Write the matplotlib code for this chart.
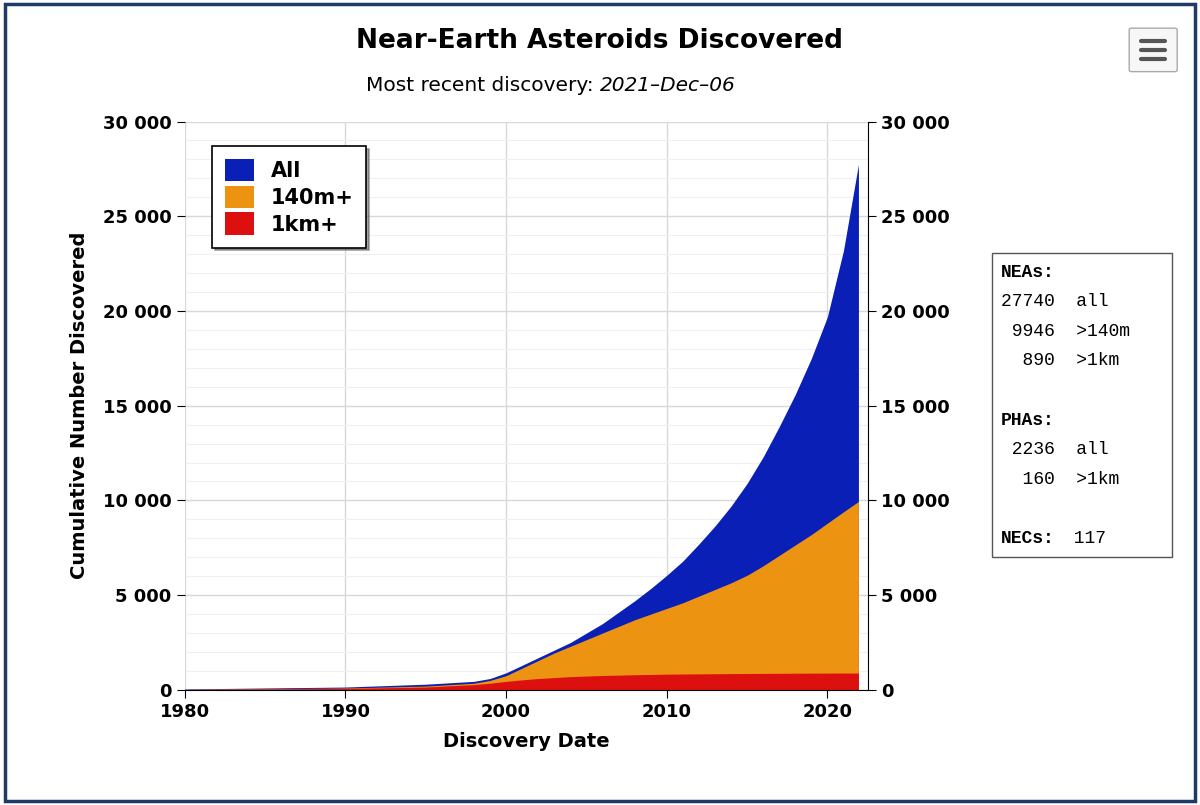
import matplotlib.pyplot as plt
from matplotlib.patches import FancyBboxPatch, Rectangle

# cumulative discoveries
years = [1980, 1985, 1990, 1995, 1998, 1999, 2000, 2001, 2002, 2003, 2004, 2005,
         2006, 2007, 2008, 2009, 2010, 2011, 2012, 2013, 2014, 2015, 2016,
         2017, 2018, 2019, 2020, 2021, 2021.93]
all_neas = [50, 100, 150, 300, 450, 600, 900, 1300, 1700, 2100, 2500, 3000,
            3500, 4100, 4700, 5350, 6050, 6800, 7700, 8650, 9700, 10900, 12300,
            13900, 15600, 17500, 19700, 23200, 27740]
m140 = [30, 60, 100, 200, 350, 500, 750, 1150, 1550, 1950, 2300, 2650,
        3000, 3350, 3700, 4000, 4300, 4600, 4950, 5300, 5650, 6050, 6550,
        7100, 7650, 8200, 8800, 9400, 9946]
km1 = [20, 50, 80, 150, 280, 350, 450, 530, 600, 650, 700, 730,
       760, 780, 800, 815, 830, 840, 845, 852, 860, 865, 870,
       875, 880, 883, 886, 888, 890]

xticks = [1980, 1990, 2000, 2010, 2020]
yticks = [0, 5000, 10000, 15000, 20000, 25000, 30000]
ylabels = ['0', '5 000', '10 000', '15 000', '20 000', '25 000', '30 000']

fig = plt.figure(figsize=(12, 8.05), dpi=100)
fig.patch.set_facecolor('white')
fig.add_artist(Rectangle((0.004, 0.005), 0.992, 0.99, transform=fig.transFigure,
                         fill=False, edgecolor='#1f3a66', linewidth=2.5))

ax = fig.add_axes([0.154, 0.143, 0.569, 0.706])
ax.fill_between(years, all_neas, color='#0a1fb5', linewidth=0)
ax.fill_between(years, m140, color='#ec9412', linewidth=0)
ax.fill_between(years, km1, color='#dd1010', linewidth=0)

ax.set_xlim(1980, 2022.5)
ax.set_ylim(0, 30000)
ax.set_xticks(xticks)
ax.set_yticks(yticks)
ax.set_yticklabels(ylabels)
ax.set_yticks(range(0, 30000, 1000), minor=True)
ax.grid(True, which='major', color='#d8d8d8', linewidth=1)
ax.grid(True, which='minor', axis='y', color='#f0f0f0', linewidth=0.8)
ax.set_axisbelow(True)
for s in ['top', 'left']:
    ax.spines[s].set_visible(False)
ax.tick_params(axis='both', labelsize=13, length=6, direction='out')
ax.tick_params(axis='y', which='minor', length=0)
ax.tick_params(axis='y', which='major', left=True, right=True, labelright=True)
for lbl in ax.get_xticklabels() + ax.get_yticklabels():
    lbl.set_fontweight('bold')
ax.set_xlabel('Discovery Date', fontsize=14, fontweight='bold', labelpad=8)
ax.set_ylabel('Cumulative Number Discovered', fontsize=14, fontweight='bold', labelpad=10)

leg = ax.legend(['All', '140m+', '1km+'], loc='upper left',
                bbox_to_anchor=(0.025, 0.975), fontsize=15, frameon=True,
                fancybox=False, shadow=True, handlelength=1.4, handleheight=1.3,
                borderpad=0.6, labelspacing=0.2, edgecolor='black')
for t in leg.get_texts():
    t.set_fontweight('bold')
leg.get_frame().set_linewidth(1.2)

fig.text(0.5, 0.94, 'Near-Earth Asteroids Discovered', ha='center',
         fontsize=19, fontweight='bold')
fig.text(0.5, 0.887, 'Most recent discovery: ', ha='right', fontsize=14.5)
fig.text(0.5, 0.887, '2021\u2013Dec\u201306', ha='left', fontsize=14.5, style='italic')

stats = [('NEAs:', None), ('27740', 'all'), (' 9946', '>140m'), ('  890', '>1km'),
         ('', None), ('PHAs:', None), (' 2236', 'all'), ('  160', '>1km'), ('', None)]
fig.add_artist(Rectangle((0.827, 0.308), 0.15, 0.378, transform=fig.transFigure,
                         fill=False, edgecolor='#555555', linewidth=1))
y = 0.662
for a, b in stats:
    if b is None:
        if a:
            fig.text(0.834, y, a, fontsize=13, fontweight='bold', family='Liberation Mono', va='center')
    else:
        fig.text(0.834, y, a + '  ' + b, fontsize=13, family='Liberation Mono', va='center')
    y -= 0.0368
fig.text(0.834, 0.331, 'NECs:', fontsize=13, fontweight='bold', family='Liberation Mono', va='center')
fig.text(0.834 + 0.052, 0.331, ' 117', fontsize=13, family='Liberation Mono', va='center')

# menu button
fig.add_artist(FancyBboxPatch((0.943, 0.913), 0.036, 0.05, transform=fig.transFigure,
                              boxstyle='round,pad=0.002', facecolor='#f7f7f7',
                              edgecolor='#aaaaaa', linewidth=1))
for yy in (0.927, 0.938, 0.949):
    fig.add_artist(plt.Line2D([0.951, 0.971], [yy, yy], transform=fig.transFigure,
                              color='#555555', linewidth=3, solid_capstyle='round'))

fig.savefig('out.png', dpi=100)
